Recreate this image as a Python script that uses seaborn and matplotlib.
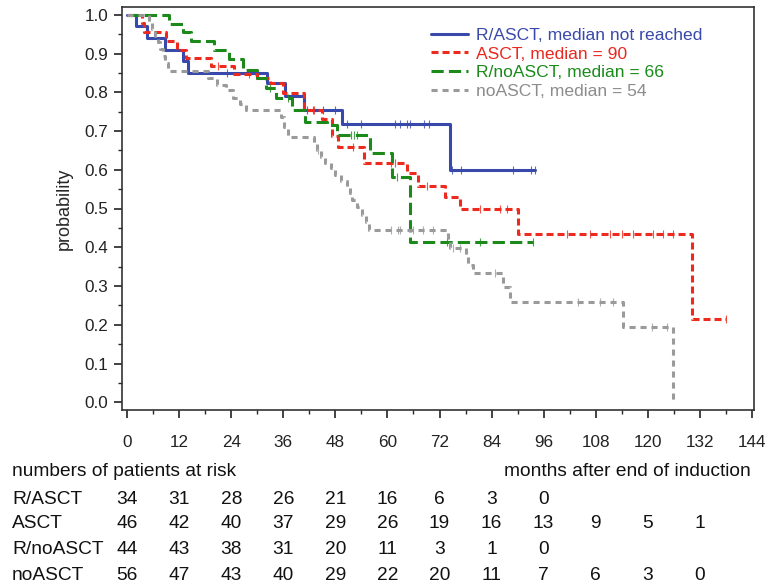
import numpy as np
import pandas as pd
import matplotlib
matplotlib.use("Agg")
import matplotlib.pyplot as plt
import matplotlib.transforms as mtransforms
import seaborn as sns

# ---------------- data ----------------
groups = ["R/ASCT", "ASCT", "R/noASCT", "noASCT"]
legend_labels = ["R/ASCT, median not reached", "ASCT, median = 90",
                 "R/noASCT, median = 66", "noASCT, median = 54"]

rasct_t = [0, 2.1, 4.6, 8.8, 12.8, 14.1, 32.2, 36.3, 40.8, 49.6, 74.5, 94.0]
rasct_s = [1.0, 0.97, 0.94, 0.91, 0.88, 0.85, 0.825, 0.79, 0.755, 0.718, 0.60, 0.60]
rasct_c = [23, 41.5, 42.9, 45.2, 48, 50.7, 53.8, 61.7, 63, 64.5, 65.3, 68.5, 69.5,
           74.8, 77, 89, 93, 94]

asct_t = [0, 3.4, 3.8, 9.0, 11.5, 13.6, 19.3, 24.6, 30.0, 33.0, 36.0, 40.8, 45.0,
          47.3, 48.7, 54.6, 64.5, 67.0, 73.3, 76.8, 90.2, 130.3, 138.0]
asct_s = [1.0, 0.979, 0.956, 0.932, 0.908, 0.889, 0.867, 0.847, 0.836, 0.823, 0.798,
          0.755, 0.73, 0.686, 0.66, 0.617, 0.591, 0.558, 0.53, 0.50, 0.434, 0.214, 0.214]
asct_c = [21, 28, 43, 52, 60.7, 61.8, 69, 81.4, 86, 87.5, 101.3, 106.7, 111.3, 114,
          116.6, 121.2, 123.5, 125.8, 138]

rno_t = [0, 9.7, 12.8, 14.7, 20.0, 23.5, 26.6, 30.0, 32.0, 34.4, 38.0, 41.0, 46.0,
         48.4, 55.9, 61.0, 65.3, 93.6]
rno_s = [1.0, 0.977, 0.955, 0.932, 0.909, 0.886, 0.858, 0.836, 0.81, 0.785, 0.755,
         0.724, 0.716, 0.69, 0.643, 0.582, 0.413, 0.413]
rno_c = [33, 37, 51.5, 52.3, 53, 62.2, 73.7, 81.4, 93.6]

no_t = [0, 5.1, 5.8, 6.5, 7.0, 7.6, 8.2, 8.8, 9.5, 18.7, 20.8, 22.8, 24.3, 26.0, 27.4,
        35.4, 36.1, 37.0, 43.0, 43.8, 44.6, 45.5, 46.9, 48.0, 49.3, 50.7, 51.3, 51.9,
        53.0, 54.2, 55.0, 55.7, 74.0, 74.5, 78.0, 78.6, 79.8, 86.7, 88.3, 114.3, 125.8]
no_s = [1.0, 0.982, 0.964, 0.946, 0.929, 0.911, 0.893, 0.875, 0.855, 0.837, 0.818,
        0.806, 0.785, 0.77, 0.755, 0.737, 0.711, 0.684, 0.668, 0.651, 0.634, 0.617,
        0.604, 0.587, 0.571, 0.556, 0.539, 0.522, 0.505, 0.483, 0.466, 0.444, 0.42,
        0.397, 0.375, 0.354, 0.333, 0.298, 0.259, 0.195, 0.0]
no_c = [44, 60.7, 62.5, 63, 66, 68.3, 70.6, 75.2, 76.8, 84.8, 104, 109, 112, 121, 124.4]

risk_times = [0, 12, 24, 36, 48, 60, 72, 84, 96, 108, 120, 132]
risk_rasct = [34, 31, 28, 26, 21, 16, 6, 3, 0]
risk_asct = [46, 42, 40, 37, 29, 26, 19, 16, 13, 9, 5, 1]
risk_rno = [44, 43, 38, 31, 20, 11, 3, 1, 0]
risk_no = [56, 47, 43, 40, 29, 22, 20, 11, 7, 6, 3, 0]

x_ticks = [0, 12, 24, 36, 48, 60, 72, 84, 96, 108, 120, 132, 144]
y_ticks = [0.0, 0.1, 0.2, 0.3, 0.4, 0.5, 0.6, 0.7, 0.8, 0.9, 1.0]

# ---------------- style ----------------
sns.set_style("ticks")
plt.rcParams["font.family"] = ["Liberation Sans", "DejaVu Sans"]

colors = ["#3949ab", "#ee2a1e", "#1b8a1b", "#9a9a9a"]
text_colors = ["#3949ab", "#e8281e", "#1a8a1a", "#8c8c8c"]
dashstyles = ["-", (0, (2.3, 1.3)), (0, (4.0, 1.7)), (0, (2.0, 1.6))]

fig = plt.figure(figsize=(7.73, 5.86), dpi=100)
W, H = 773, 586
ax = fig.add_axes([122 / W, 1 - 410 / H, (754 - 122) / W, (410 - 7) / H])

curves = [(rasct_t, rasct_s, rasct_c), (asct_t, asct_s, asct_c),
          (rno_t, rno_s, rno_c), (no_t, no_s, no_c)]

for (t, s, c), g, col, ls, lab in zip(curves, groups, colors, dashstyles, legend_labels):
    df = pd.DataFrame({"month": t, "prob": s})
    sns.lineplot(data=df, x="month", y="prob", ax=ax, estimator=None, sort=False,
                 drawstyle="steps-post", color=col, linestyle=ls, linewidth=2.2,
                 label=lab)
    ta = np.asarray(t)
    sa = np.asarray(s)
    ca = np.asarray(c)
    idx = np.clip(np.searchsorted(ta, ca, side="right") - 1, 0, len(sa) - 1)
    ax.plot(ca, sa[idx], linestyle="none", marker="|", markersize=6,
            markeredgewidth=0.8, color=col, alpha=0.8)

ax.set_xlim(-1.2, 144.5)
ax.set_ylim(-0.02, 1.02)
ax.set_xticks(x_ticks)
ax.set_xticklabels([str(v) for v in x_ticks], fontsize=12.3)
ax.set_xticks(np.arange(6, 144, 12), minor=True)
ax.set_yticks(y_ticks)
ax.set_yticklabels([f"{v:.1f}" for v in y_ticks], fontsize=12.3)
ax.set_yticks(np.arange(0.05, 1.0, 0.1), minor=True)
ax.tick_params(axis="both", which="major", length=6, width=1.2, direction="out",
               pad=12, colors="#222222")
ax.tick_params(axis="both", which="minor", length=3, width=1.0, direction="out")
ax.tick_params(axis="y", which="major", pad=4)
ax.set_xlabel("")
ax.set_ylabel("probability", fontsize=13, labelpad=8)
for sp in ax.spines.values():
    sp.set_visible(True)
    sp.set_linewidth(1.2)
    sp.set_color("#333333")

leg = ax.legend(loc="upper right", bbox_to_anchor=(0.935, 0.975), frameon=False,
                fontsize=12.6, handlelength=2.1, handletextpad=0.45, labelspacing=0.2,
                borderaxespad=0.2)
for txt, tc in zip(leg.get_texts(), text_colors):
    txt.set_color(tc)

# ---------------- risk table ----------------
trans = mtransforms.blended_transform_factory(ax.transData, fig.transFigure)
fs = 13.8
fig.text(12 / W, 1 - 471 / H, "numbers of patients at risk", fontsize=fs,
         ha="left", va="center", color="#111111")
fig.text(751 / W, 1 - 471 / H, "months after end of induction", fontsize=fs,
         ha="right", va="center", color="#111111")
rows = [risk_rasct, risk_asct, risk_rno, risk_no]
row_y = [499, 524, 549, 575]
for name, vals, yp in zip(groups, rows, row_y):
    fig.text(12 / W, 1 - yp / H, name, fontsize=fs, ha="left", va="center",
             color="#111111")
    for tm, v in zip(risk_times, vals):
        ax.text(tm, 1 - yp / H, str(v), transform=trans, fontsize=fs,
                ha="center", va="center", color="#111111", clip_on=False)

fig.savefig("out.png", dpi=100)
